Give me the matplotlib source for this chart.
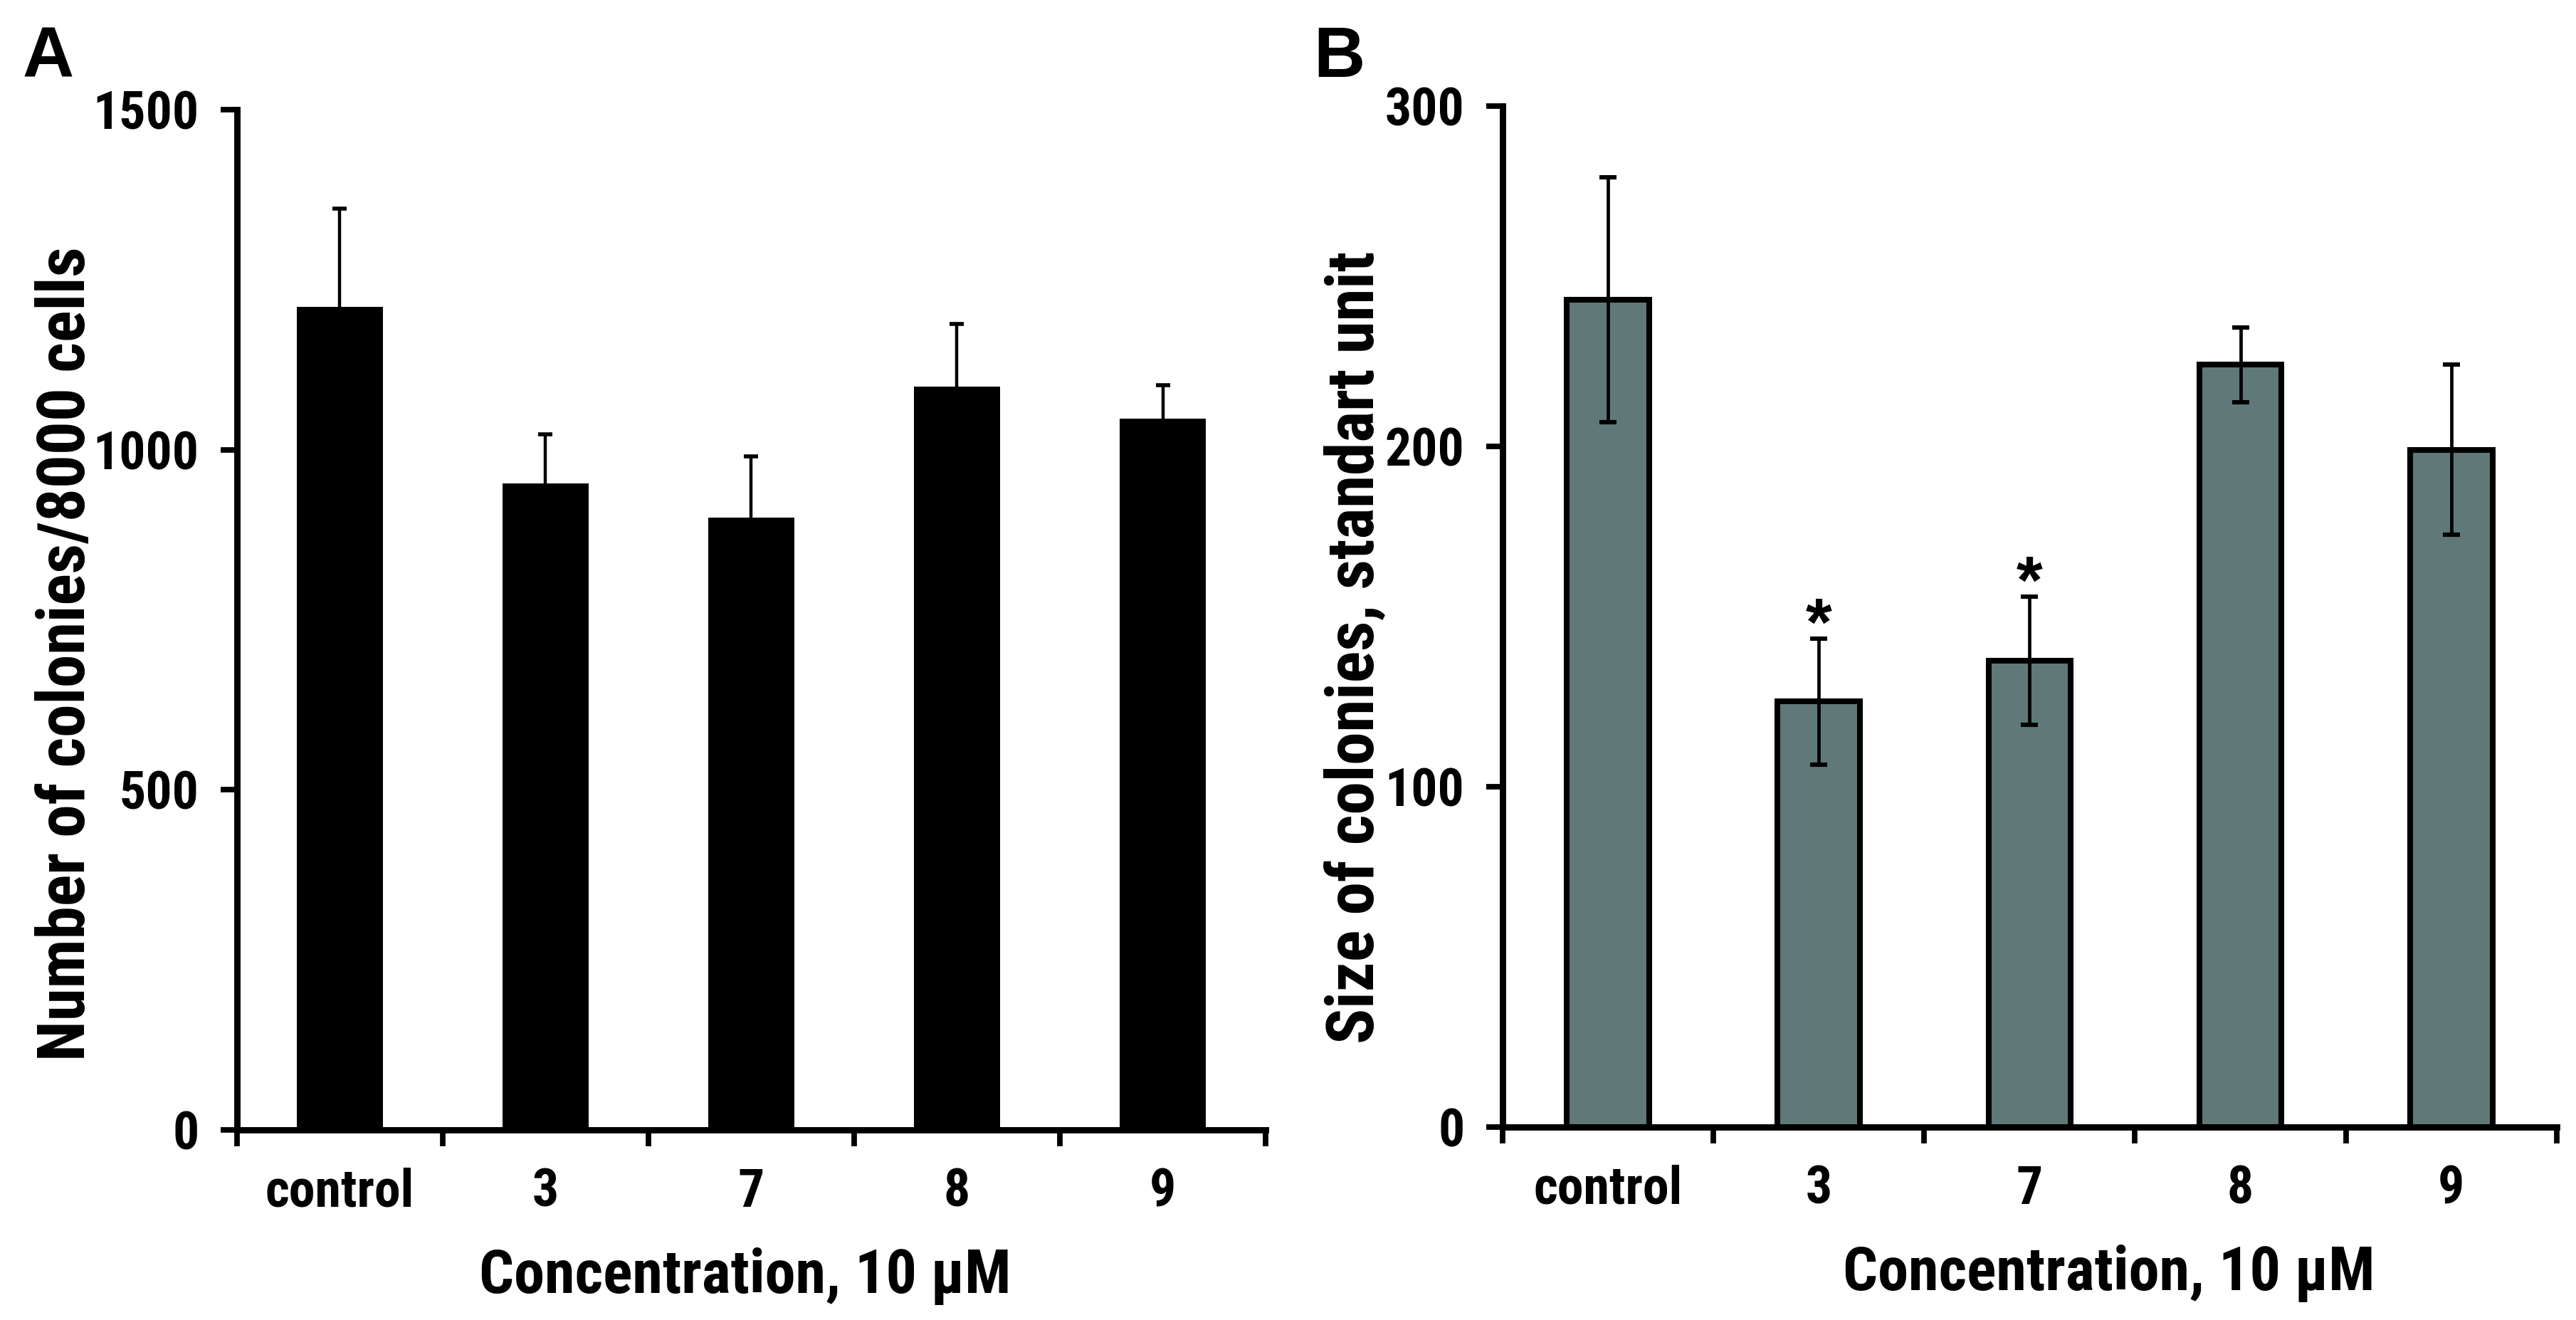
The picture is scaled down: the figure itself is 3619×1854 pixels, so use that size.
import matplotlib
matplotlib.use('Agg')
from matplotlib import pyplot as plt
from matplotlib import font_manager as fm
import numpy as np

categories = ['control', '3', '7', '8', '9']

# panel A: number of colonies / 8000 cells
colonies_a = [1210, 951, 900, 1093, 1046]
err_a = [145, 72, 90, 92, 49]

# panel B: size of colonies, standart unit
size_b = [243, 125, 137, 224, 199]
err_b = [36, 18.5, 18.8, 11, 25]
sig_b = ['', '*', '*', '', '']

# narrow bold face, close to the Arial Narrow look of the original
names = set(f.name for f in fm.fontManager.ttflist)
narrow_name = 'Liberation Sans'
for want in ['Liberation Sans Narrow', 'Arial Narrow', 'Roboto Condensed', 'Archivo Narrow']:
    if want in names:
        narrow_name = want
        break

plt.rcParams['font.family'] = [narrow_name, 'DejaVu Sans']
plt.rcParams['font.weight'] = 'bold'
plt.rcParams['axes.labelweight'] = 'bold'

fig = plt.figure(figsize=(18.095, 9.27), dpi=200)
axA = fig.add_axes([0.0920, 0.1440, 0.3993, 0.7729])
axB = fig.add_axes([0.5833, 0.1462, 0.4092, 0.7735])

x = np.arange(len(categories))

axA.bar(x, colonies_a, width=0.42, color='black', edgecolor='black', linewidth=0)
axA.errorbar(x, colonies_a, yerr=err_a, fmt='none', ecolor='black',
             elinewidth=1.6, capsize=3.5, capthick=2)
axA.set_ylim(0, 1500)
axA.set_yticks([0, 500, 1000, 1500])
axA.set_ylabel('Number of colonies/8000 cells', fontsize=33.5)
axA.yaxis.set_label_coords(-0.135, 0.467)

axB.bar(x, size_b, width=0.39, color='#607978', edgecolor='black', linewidth=2.9)
axB.errorbar(x, size_b, yerr=err_b, fmt='none', ecolor='black',
             elinewidth=1.7, capsize=4.3, capthick=2.2)
for xi, v, e, s in zip(x, size_b, err_b, sig_b):
    if s:
        axB.annotate(s, (xi, v + e), xytext=(0, -3), textcoords='offset points',
                     ha='center', va='baseline', fontsize=34,
                     family='Liberation Sans', fontweight='bold')
axB.set_ylim(0, 300)
axB.set_yticks([0, 100, 200, 300])
axB.set_ylabel('Size of colonies, standart unit', fontsize=33.5)
axB.yaxis.set_label_coords(-0.11, 0.47)

for ax, xc in ((axA, 0.494), (axB, 0.575)):
    ax.set_xlim(-0.5, len(categories) - 0.5)
    ax.set_xticks(x)
    ax.set_xticklabels(categories)
    ax.set_xticks(np.arange(len(categories) + 1) - 0.5, minor=True)
    ax.tick_params(axis='x', which='major', length=0, pad=19, labelsize=26.5)
    ax.tick_params(axis='x', which='minor', length=8.3, width=2.8, direction='out')
    ax.tick_params(axis='y', length=8.3, width=2.8, direction='out', pad=11, labelsize=26.5)
    ax.set_xlabel('Concentration, 10 \u00b5M', fontsize=31, labelpad=14)
    ax.xaxis.set_label_coords(xc, -0.115)
    for side in ('top', 'right'):
        ax.spines[side].set_visible(False)
    for side in ('left', 'bottom'):
        ax.spines[side].set_linewidth(3.2)

fig.text(0.0088, 0.981, 'A', fontsize=36, fontweight='bold', family='Liberation Sans',
         ha='left', va='top')
fig.text(0.5098, 0.981, 'B', fontsize=36, fontweight='bold', family='Liberation Sans',
         ha='left', va='top')

fig.savefig('out.png', dpi=200)
